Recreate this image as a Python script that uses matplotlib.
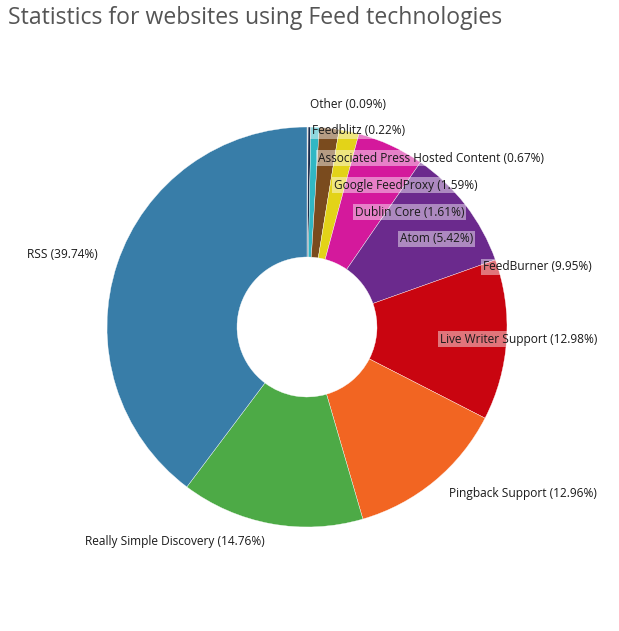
import matplotlib
matplotlib.use('Agg')
import matplotlib.pyplot as plt

plt.rcParams['font.family'] = ['Open Sans', 'DejaVu Sans']

# slices, clockwise from 12 o'clock
names = ['Other', 'Feedblitz', 'Associated Press Hosted Content', 'Google FeedProxy',
         'Dublin Core', 'Atom', 'FeedBurner', 'Live Writer Support', 'Pingback Support',
         'Really Simple Discovery', 'RSS']
shares = [0.09, 0.22, 0.67, 1.59, 1.61, 5.42, 9.95, 12.98, 12.96, 14.76, 39.74]
colors = ['#d9d9d9', '#1c2c4c', '#30b7c4', '#7a4b1e', '#e3d318', '#d4199c', '#6b2a8d',
          '#c90510', '#f26522', '#4daa46', '#387da8']

# label anchor (left edge, pixel y from top) as laid out in the original
label_pos = [(310, 104), (312, 131), (318, 158), (334, 185), (355, 212), (400, 239),
             (483, 267), (440, 339), (449, 494), (85, 541), (27, 254)]

W, H = 619, 631
fig = plt.figure(figsize=(W / 100, H / 100), dpi=100)
ax = fig.add_axes([0, 0, 1, 1])

cx, cy, r = 307, H - 327, 200
ax.pie(shares, colors=colors, startangle=90, counterclock=False,
       center=(cx, cy), radius=r, frame=True,
       wedgeprops=dict(width=130, edgecolor='white', linewidth=0.25))
ax.set_xlim(0, W)
ax.set_ylim(0, H)
ax.set_aspect('equal')
ax.axis('off')

for name, v, (x, y) in zip(names, shares, label_pos):
    ax.text(x, H - y, f'{name} ({v:.2f}%)', ha='left', va='center', fontsize=8.6,
            color='#1a1a1a',
            bbox=dict(facecolor='white', alpha=0.45, edgecolor='none', pad=1.2))

fig.text(8 / W, 1 - 18 / H, 'Statistics for websites using Feed technologies',
         ha='left', va='center', fontsize=16.6, color='#555555')

fig.savefig('out.png', dpi=100)
